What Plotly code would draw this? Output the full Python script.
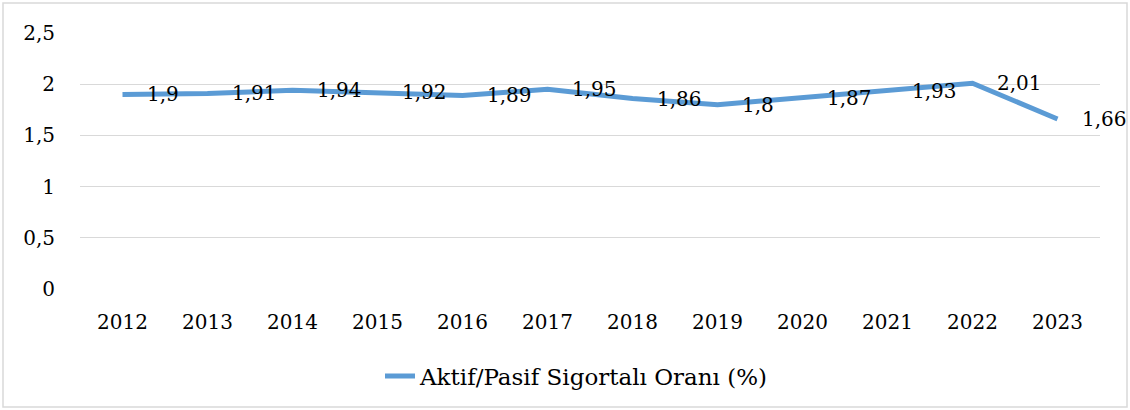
import plotly.graph_objects as go

years = ["2012", "2013", "2014", "2015", "2016", "2017", "2018", "2019", "2020", "2021", "2022", "2023"]
ratio = [1.90, 1.91, 1.94, 1.92, 1.89, 1.95, 1.86, 1.80, 1.87, 1.93, 2.01, 1.66]
series_name = "Aktif/Pasif Sigortalı Oranı (%)"
y_ticks = [0, 0.5, 1, 1.5, 2, 2.5]

FONT = "DejaVu Serif"
W, H = 1130, 410
L, R, T, B = 80, 30, 33, 121
pw, ph = W - L - R, H - T - B

def fmt(v):
    s = ("%.2f" % v).rstrip("0").rstrip(".")
    return s.replace(".", ",")

xpos = list(range(len(years)))

fig = go.Figure()
fig.add_trace(go.Scatter(
    x=xpos, y=ratio, mode="lines", name=series_name,
    line=dict(color="#5B9BD5", width=5),
    hoverinfo="skip",
))

annotations = []
for x, v in zip(xpos, ratio):
    annotations.append(dict(
        x=x, y=v, xref="x", yref="y", text=fmt(v), showarrow=False,
        xanchor="left", yanchor="middle", xshift=22,
        font=dict(family=FONT, size=20, color="#000000"),
    ))

border = dict(
    type="rect", xref="paper", yref="paper",
    x0=(3 - L) / pw, x1=(W - 3 - L) / pw,
    y0=(H - B - (H - 3)) / ph, y1=(H - B - 3) / ph,
    line=dict(color="#D9D9D9", width=1.5), layer="below",
)

fig.update_layout(
    width=W, height=H,
    margin=dict(l=L, r=R, t=T, b=B, pad=0),
    paper_bgcolor="white", plot_bgcolor="white",
    separators=",.",
    font=dict(family=FONT, size=20, color="#000000"),
    showlegend=True,
    legend=dict(
        orientation="h", x=(577 - L) / pw, xanchor="center",
        y=(H - B - 376) / ph, yanchor="middle",
        font=dict(family=FONT, size=23, color="#000000"),
        bgcolor="rgba(0,0,0,0)",
    ),
    xaxis=dict(
        range=[-0.5, len(years) - 0.5],
        tickvals=xpos, ticktext=years,
        showgrid=False, zeroline=False, showline=False,
        ticks="", ticklabelstandoff=19,
        tickfont=dict(family=FONT, size=20, color="#000000"),
        fixedrange=True,
    ),
    yaxis=dict(
        range=[0, 2.5], tickvals=y_ticks,
        showgrid=True, gridcolor="#D9D9D9", gridwidth=1.3,
        zeroline=False, showline=False, ticks="",
        ticklabelstandoff=24,
        tickfont=dict(family=FONT, size=20, color="#000000"),
        fixedrange=True,
    ),
    annotations=annotations,
    shapes=[border],
)

fig.write_html(
    "out.html",
    config={"displayModeBar": False},
    post_script="document.body.style.margin='0';document.body.style.padding='0';",
)
